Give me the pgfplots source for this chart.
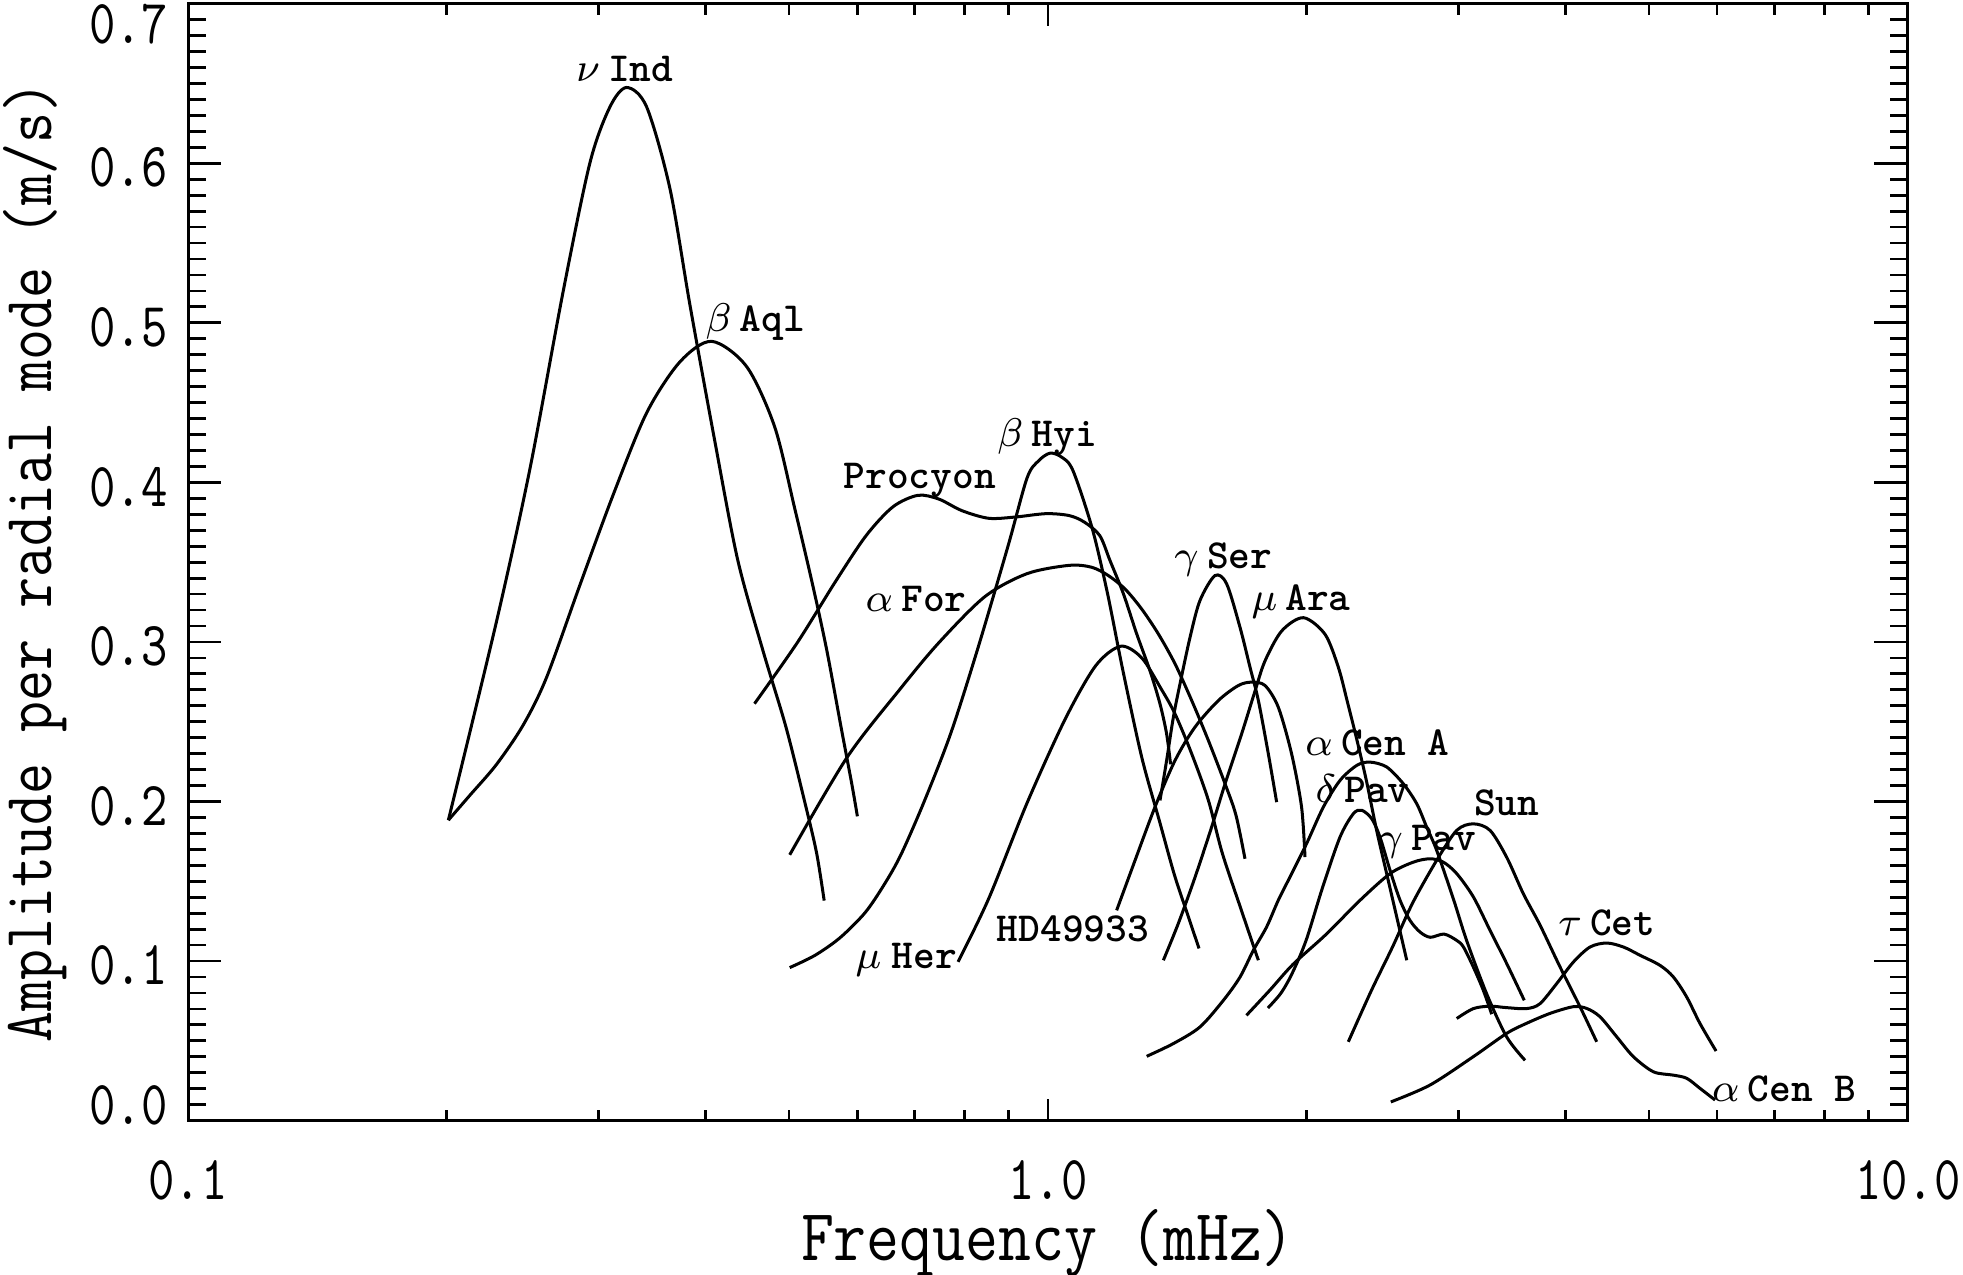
\documentclass[border=0pt]{standalone}
\usepackage{graphicx}
\usepackage{pgfplots}
\pgfplotsset{compat=1.18}
\newlength\pu
\setlength\pu{0.25pt}
\newcommand\lift[2]{\raisebox{#1}[\height][\depth]{#2}}
\newcommand\tk[1]{\scalebox{1}[1.25]{#1}}

\begin{document}
\begin{tikzpicture}
\begin{axis}[
    scale only axis,
    width=1372\pu, height=891\pu,
    xmode=log, xmin=0.1, xmax=10,
    ymin=0, ymax=0.7,
    xtick={0.1,1,10},
    xticklabels={\tk{0.1},\tk{1.0},\tk{10.0}},
    minor xtick={0.2,0.3,0.4,0.5,0.6,0.7,0.8,0.9,2,3,4,5,6,7,8,9},
    ytick={0,0.1,0.2,0.3,0.4,0.5,0.6,0.7},
    yticklabels={{\lift{16.1\pu}{\tk{0.0}}},\tk{0.1},\tk{0.2},\tk{0.3},\tk{0.4},\tk{0.5},\tk{0.6},{\lift{-13\pu}{\tk{0.7}}}},
    minor y tick num=9,
    tick align=inside,
    tick label style={font=\ttfamily\fontsize{10}{12}\selectfont},
    xticklabel style={anchor=center, yshift=-47.4\pu},
    yticklabel style={anchor=east, inner sep=0pt, xshift=-15\pu, yshift=-3.6\pu},
    xlabel={\scalebox{1}[1.15]{Frequency (mHz)}},
    ylabel={\scalebox{1}[1.15]{Amplitude per radial mode (m/s)}},
    xlabel style={font=\ttfamily\fontsize{12.75}{15}\selectfont, at={(axis description cs:0.5,-0.1097)}, anchor=center},
    ylabel style={font=\ttfamily\fontsize{12}{14}\selectfont, at={(axis description cs:-0.0890,0.5)}, anchor=center},
    axis line style={line width=0.6pt},
    every tick/.append style={black, line width=0.55pt},
    xtick style={/pgfplots/major tick length=17.5\pu, /pgfplots/minor tick length=8.8\pu},
    ytick style={/pgfplots/major tick length=26.7\pu, /pgfplots/minor tick length=14.3\pu},
    cycle list={{black, solid}},
    every axis plot/.append style={black, solid, line width=0.6pt, smooth},
    no markers,
]

% nu Ind
\addplot coordinates {(0.2008,0.1883) (0.2284,0.3127) (0.2499,0.4089) (0.2732,0.5203) (0.2934,0.6004) (0.3095,0.6353) (0.3237,0.6475) (0.3415,0.6353) (0.3635,0.5841) (0.3836,0.5109) (0.4095,0.4269) (0.4357,0.3516) (0.4661,0.2948) (0.4957,0.2469) (0.5218,0.1990) (0.5382,0.1678) (0.5493,0.1379)};
% beta Aql
\addplot coordinates {(0.2008,0.1883) (0.2128,0.2040) (0.2284,0.2232) (0.2454,0.2480) (0.2612,0.2778) (0.2857,0.3359) (0.3123,0.3924) (0.3415,0.4436) (0.3734,0.4756) (0.4065,0.4884) (0.4464,0.4725) (0.4811,0.4348) (0.5076,0.3837) (0.5321,0.3367) (0.5530,0.2951) (0.5748,0.2464) (0.5914,0.2111) (0.6004,0.1907)};
% Procyon
\addplot coordinates {(0.4558,0.2613) (0.5112,0.2996) (0.5664,0.3380) (0.6147,0.3667) (0.6604,0.3847) (0.7061,0.3919) (0.7470,0.3895) (0.7943,0.3823) (0.8533,0.3775) (0.9167,0.3783) (0.9950,0.3804) (1.0584,0.3792) (1.1025,0.3751) (1.1487,0.3667) (1.1808,0.3510) (1.2241,0.3301) (1.2682,0.3051) (1.3140,0.2821) (1.3498,0.2613) (1.3740,0.2425) (1.3889,0.2233)};
% beta Hyi
\addplot coordinates {(0.5009,0.0959) (0.5356,0.1035) (0.5728,0.1145) (0.6126,0.1302) (0.6443,0.1475) (0.6741,0.1663) (0.7168,0.1990) (0.7702,0.2421) (0.8276,0.2948) (0.8981,0.3596) (0.9455,0.4027) (0.9748,0.4134) (1.0054,0.4183) (1.0369,0.4159) (1.0691,0.4075) (1.1254,0.3715) (1.1725,0.3308) (1.2214,0.2829) (1.2856,0.2277) (1.3482,0.1876) (1.4035,0.1538) (1.4563,0.1279) (1.4986,0.1079)};
% alpha For
\addplot coordinates {(0.5009,0.1666) (0.5841,0.2277) (0.6741,0.2709) (0.7470,0.2996) (0.8447,0.3284) (0.9455,0.3428) (1.0584,0.3480) (1.1242,0.3468) (1.1756,0.3416) (1.2292,0.3332) (1.2851,0.3207) (1.3441,0.3050) (1.4054,0.2863) (1.4696,0.2633) (1.5368,0.2382) (1.6069,0.2111) (1.6545,0.1914) (1.6949,0.1641)};
% mu Her
\addplot coordinates {(0.7861,0.0995) (0.8533,0.1391) (0.9455,0.1990) (1.0474,0.2517) (1.1368,0.2852) (1.2153,0.2973) (1.2856,0.2900) (1.3531,0.2709) (1.4054,0.2549) (1.4696,0.2299) (1.5368,0.2007) (1.5945,0.1679) (1.6768,0.1326) (1.7568,0.1005)};
% HD49933
\addplot coordinates {(1.2020,0.1318) (1.2627,0.1631) (1.3319,0.1965) (1.4054,0.2257) (1.4825,0.2466) (1.5785,0.2633) (1.6652,0.2727) (1.7253,0.2748) (1.7884,0.2727) (1.8532,0.2591) (1.9203,0.2299) (1.9726,0.1965) (1.9906,0.1652)};
% gamma Ser
\addplot coordinates {(1.3500,0.2007) (1.3742,0.2258) (1.3993,0.2530) (1.4244,0.2738) (1.4632,0.3030) (1.5025,0.3260) (1.5643,0.3416) (1.6138,0.3364) (1.6723,0.3093) (1.7179,0.2842) (1.7568,0.2633) (1.8042,0.2300) (1.8452,0.1996)};
% mu Ara
\addplot coordinates {(1.3622,0.1005) (1.4177,0.1235) (1.4825,0.1524) (1.5502,0.1840) (1.6069,0.2111) (1.6802,0.2425) (1.7411,0.2692) (1.7884,0.2881) (1.8702,0.3069) (1.9819,0.3152) (2.1000,0.3048) (2.1767,0.2840) (2.2305,0.2621) (2.2836,0.2401) (2.3457,0.2132) (2.4115,0.1818) (2.4771,0.1547) (2.5446,0.1276) (2.6139,0.1005)};
% alpha Cen A
\addplot coordinates {(1.3027,0.0403) (1.3993,0.0483) (1.5025,0.0587) (1.5998,0.0754) (1.6727,0.0900) (1.7335,0.1068) (1.7963,0.1214) (1.8532,0.1381) (1.9120,0.1527) (1.9992,0.1736) (2.0906,0.1965) (2.1860,0.2132) (2.2860,0.2226) (2.3687,0.2247) (2.4771,0.2216) (2.5899,0.2111) (2.6846,0.1986) (2.7568,0.1840) (2.8318,0.1694) (2.9611,0.1390) (3.0683,0.1129) (3.2373,0.0795) (3.4161,0.0524) (3.5879,0.0378)};
% delta Pav
\addplot coordinates {(1.8024,0.0706) (1.8671,0.0800) (1.9243,0.0925) (1.9966,0.1130) (2.0857,0.1459) (2.1860,0.1777) (2.2652,0.1923) (2.3167,0.1945) (2.3798,0.1892) (2.4331,0.1777) (2.4996,0.1568) (2.5674,0.1381) (2.6364,0.1255) (2.7081,0.1182) (2.7836,0.1149) (2.8882,0.1169) (2.9869,0.1130) (3.0416,0.1089) (3.1235,0.0963) (3.2083,0.0817) (3.2813,0.0667)};
% gamma Pav
\addplot coordinates {(1.7018,0.0660) (1.8127,0.0819) (1.9276,0.0979) (2.1068,0.1168) (2.3066,0.1381) (2.4996,0.1548) (2.6604,0.1620) (2.7819,0.1641) (2.8826,0.1620) (2.9880,0.1548) (3.1243,0.1402) (3.2671,0.1192) (3.4161,0.0984) (3.5805,0.0754)};
% Sun
\addplot coordinates {(2.2351,0.0494) (2.3774,0.0815) (2.5170,0.1090) (2.6559,0.1365) (2.8318,0.1631) (2.9880,0.1819) (3.1243,0.1860) (3.2671,0.1819) (3.4161,0.1650) (3.5721,0.1421) (3.7353,0.1225) (3.9396,0.0965) (4.1567,0.0714) (4.3465,0.0494)};
% tau Cet
\addplot coordinates {(2.9880,0.0640) (3.1243,0.0702) (3.2671,0.0717) (3.4161,0.0708) (3.6034,0.0702) (3.7352,0.0733) (3.9057,0.0859) (4.0838,0.0994) (4.2700,0.1088) (4.4650,0.1113) (4.6689,0.1088) (4.8823,0.1036) (5.1497,0.0973) (5.3378,0.0900) (5.5320,0.0774) (5.7326,0.0608) (5.9842,0.0436)};
% alpha Cen B
\addplot coordinates {(2.5044,0.0117) (2.7819,0.0223) (3.1243,0.0401) (3.4161,0.0547) (3.6034,0.0610) (3.8369,0.0672) (4.0838,0.0714) (4.2319,0.0703) (4.3851,0.0651) (4.5851,0.0526) (4.7945,0.0401) (5.0593,0.0306) (5.3378,0.0285) (5.5320,0.0265) (5.7326,0.0202) (5.9677,0.0129)};

\begin{scope}[every node/.style={anchor=base, inner sep=0pt, font=\ttfamily\bfseries\fontsize{8.25}{10}\selectfont}]
\node at (axis cs:0.3221,0.6514) {$\nu$\hspace{0.2em}Ind};
\node at (axis cs:0.4567,0.4947) {$\beta$\hspace{0.2em}Aql};
\node at (axis cs:0.7096,0.3960) {Procyon};
\node at (axis cs:0.9977,0.4223) {$\beta$\hspace{0.2em}Hyi};
\node at (axis cs:0.7025,0.3188) {$\alpha$\hspace{0.2em}For};
\node at (axis cs:0.6843,0.0954) {$\mu$\hspace{0.25em}Her};
\node at (axis cs:1.0694,0.1122) {HD49933};
\node at (axis cs:1.5993,0.3458) {$\gamma$\hspace{0.2em}Ser};
\node at (axis cs:1.9701,0.3196) {$\mu$\hspace{0.2em}Ara};
\node at (axis cs:2.4168,0.2289) {$\alpha$\hspace{0.2em}Cen A};
\node at (axis cs:2.3222,0.1996) {$\delta$\hspace{0.2em}Pav};
\node at (axis cs:2.7632,0.1694) {$\gamma$\hspace{0.2em}Pav};
\node at (axis cs:3.4161,0.1913) {Sun};
\node at (axis cs:4.4653,0.1162) {$\tau$\hspace{0.2em}Cet};
\node at (axis cs:7.1824,0.0119) {$\alpha$\hspace{0.2em}Cen B};
\end{scope}
\end{axis}
\pgfresetboundingbox
\path[use as bounding box] ([shift={(-150\pu,-123\pu)}]current axis.south west) rectangle ([shift={(44\pu,3\pu)}]current axis.north east);
\end{tikzpicture}
\end{document}
